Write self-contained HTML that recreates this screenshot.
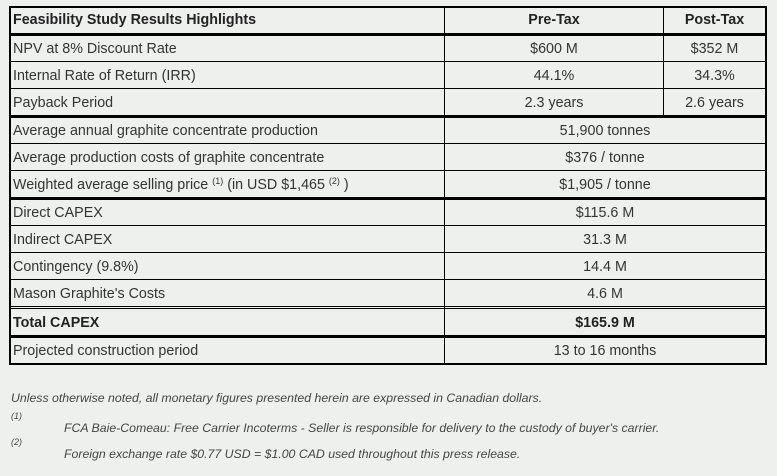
<!DOCTYPE html><html><head><style>
body{margin:0;width:777px;height:476px;background:#eef0ee;font-family:"Liberation Sans",Arial,sans-serif;color:#333;position:relative;overflow:hidden}
.h{position:absolute;left:9px;width:757px;background:#000}
.v{position:absolute;width:1px;background:#000}
.t{position:absolute;font-size:14.3px;line-height:16px;white-space:nowrap}
.c{text-align:center}
.n{position:absolute;font-size:12.3px;font-style:italic;color:#444;white-space:nowrap}
sup{font-size:9px;line-height:0;vertical-align:5px}
</style></head><body>
<div class="h" style="top:6px;height:2px"></div>
<div class="h" style="top:33px;height:3px"></div>
<div class="h" style="top:61px;height:1px"></div>
<div class="h" style="top:88px;height:1px"></div>
<div class="h" style="top:115px;height:3px"></div>
<div class="h" style="top:143px;height:1px"></div>
<div class="h" style="top:170px;height:1px"></div>
<div class="h" style="top:197px;height:3px"></div>
<div class="h" style="top:225px;height:1px"></div>
<div class="h" style="top:252px;height:1px"></div>
<div class="h" style="top:279px;height:1px"></div>
<div class="h" style="top:306px;height:1px"></div>
<div class="h" style="top:308px;height:1px"></div>
<div class="h" style="top:335px;height:3px"></div>
<div class="h" style="top:363px;height:2px"></div>
<div class="v" style="left:9px;top:6px;height:359px;width:2px"></div>
<div class="v" style="left:765px;top:6px;height:359px;width:2px"></div>
<div class="v" style="left:444px;top:6px;height:359px"></div>
<div class="v" style="left:663px;top:6px;height:110px"></div>

<div class="t" style="left:13px;top:12px;font-weight:bold;color:#222">Feasibility Study Results Highlights</div>
<div class="t c" style="left:445px;width:218px;top:12px;font-weight:bold;color:#222">Pre-Tax</div>
<div class="t c" style="left:664px;width:101px;top:12px;font-weight:bold;color:#222">Post-Tax</div>

<div class="t" style="left:13px;top:41px">NPV at 8% Discount Rate</div>
<div class="t c" style="left:445px;width:218px;top:41px">$600 M</div>
<div class="t c" style="left:664px;width:101px;top:41px">$352 M</div>
<div class="t" style="left:13px;top:68px">Internal Rate of Return (IRR)</div>
<div class="t c" style="left:445px;width:218px;top:68px">44.1%</div>
<div class="t c" style="left:664px;width:101px;top:68px">34.3%</div>
<div class="t" style="left:13px;top:95px">Payback Period</div>
<div class="t c" style="left:445px;width:218px;top:95px">2.3 years</div>
<div class="t c" style="left:664px;width:101px;top:95px">2.6 years</div>

<div class="t" style="left:13px;top:123px">Average annual graphite concentrate production</div>
<div class="t c" style="left:445px;width:320px;top:123px">51,900 tonnes</div>
<div class="t" style="left:13px;top:150px">Average production costs of graphite concentrate</div>
<div class="t c" style="left:445px;width:320px;top:150px">$376 / tonne</div>
<div class="t" style="left:13px;top:177px">Weighted average selling price <sup>(1)</sup> (in USD $1,465 <sup>(2)</sup> )</div>
<div class="t c" style="left:445px;width:320px;top:177px">$1,905 / tonne</div>

<div class="t" style="left:13px;top:205px">Direct CAPEX</div>
<div class="t c" style="left:445px;width:320px;top:205px">$115.6 M</div>
<div class="t" style="left:13px;top:232px">Indirect CAPEX</div>
<div class="t c" style="left:445px;width:320px;top:232px">31.3 M</div>
<div class="t" style="left:13px;top:259px">Contingency (9.8%)</div>
<div class="t c" style="left:445px;width:320px;top:259px">14.4 M</div>
<div class="t" style="left:13px;top:286px">Mason Graphite's Costs</div>
<div class="t c" style="left:445px;width:320px;top:286px">4.6 M</div>
<div class="t" style="left:13px;top:315px;font-weight:bold;color:#222">Total CAPEX</div>
<div class="t c" style="left:445px;width:320px;top:315px;font-weight:bold;color:#222">$165.9 M</div>
<div class="t" style="left:13px;top:343px">Projected construction period</div>
<div class="t c" style="left:445px;width:320px;top:343px">13 to 16 months</div>

<div class="n" style="left:11px;top:391px">Unless otherwise noted, all monetary figures presented herein are expressed in Canadian dollars.</div>
<div class="n" style="left:11px;top:411px;font-size:9px">(1)</div>
<div class="n" style="left:64px;top:421px">FCA Baie-Comeau: Free Carrier Incoterms - Seller is responsible for delivery to the custody of buyer's carrier.</div>
<div class="n" style="left:11px;top:437px;font-size:9px">(2)</div>
<div class="n" style="left:64px;top:447px">Foreign exchange rate $0.77 USD = $1.00 CAD used throughout this press release.</div>
</body></html>
